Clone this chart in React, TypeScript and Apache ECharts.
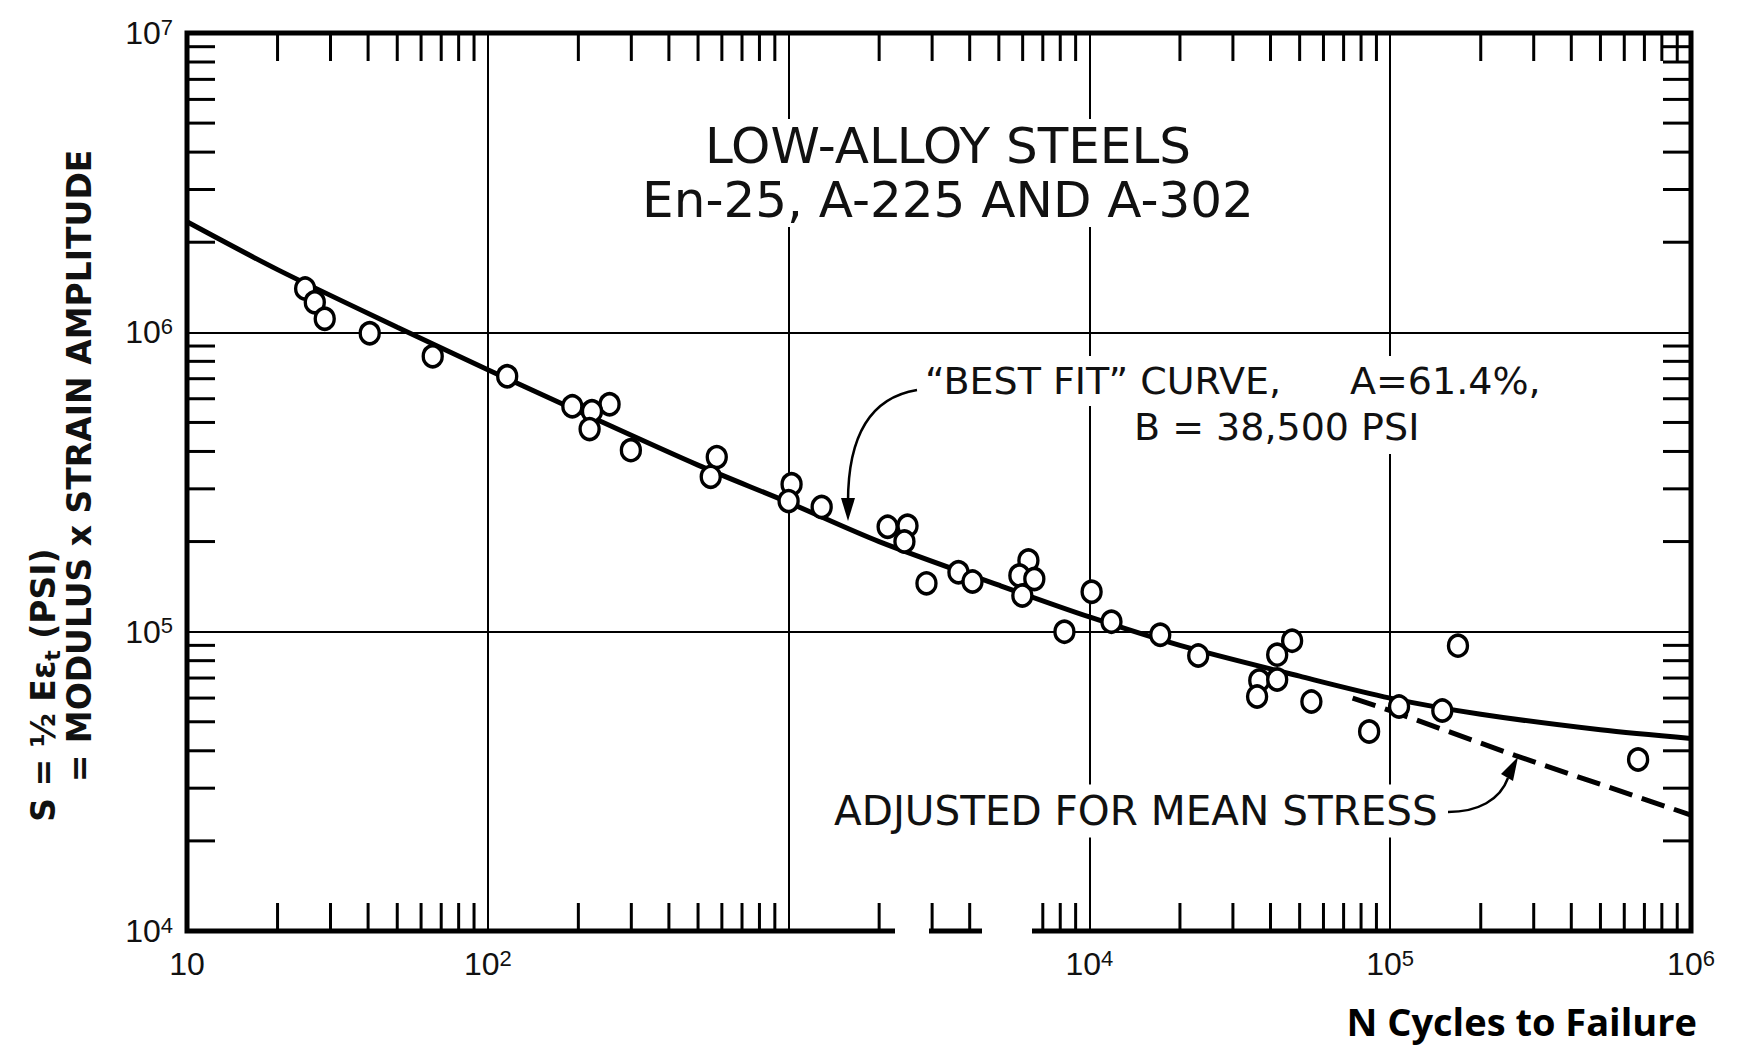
import React, { useEffect, useRef } from 'react';
import * as echarts from 'echarts';

// ---- data ----
const pointN = [24.7, 26.6, 28.7, 40.5, 65.6, 116, 191, 254, 222, 218, 299, 577, 551, 1023, 1000, 1288, 2134, 2485, 2427, 2873, 3670, 4087, 6270, 5850, 6560, 5985, 8260, 10170, 11840, 17200, 23000, 47200, 42100, 36700, 42100, 36100, 54700, 168000, 85100, 107000, 149000, 667000];
const pointS = [1.40e6, 1.26e6, 1.11e6, 9.93e5, 8.32e5, 7.13e5, 5.66e5, 5.75e5, 5.45e5, 4.75e5, 4.04e5, 3.83e5, 3.29e5, 3.11e5, 2.73e5, 2.61e5, 2.24e5, 2.26e5, 2.0e5, 1.45e5, 1.58e5, 1.47e5, 1.73e5, 1.54e5, 1.50e5, 1.32e5, 1.0e5, 1.36e5, 1.08e5, 9.77e4, 8.32e4, 9.33e4, 8.38e4, 6.87e4, 6.92e4, 6.07e4, 5.84e4, 8.98e4, 4.64e4, 5.62e4, 5.45e4, 3.74e4];

const fitN = [10, 20, 50, 100, 200, 500, 1000, 2000, 5000, 1e4, 2e4, 5e4, 1e5, 2e5, 5e5, 1e6];
const fitS = [2.34e6, 1.62e6, 1.04e6, 7.5e5, 5.45e5, 3.6e5, 2.7e5, 2.0e5, 1.43e5, 1.12e5, 9.0e4, 7.1e4, 6.0e4, 5.3e4, 4.7e4, 4.4e4];

const adjN = [7.5e4, 1e5, 2.6e5, 6.4e5, 1e6];
const adjS = [6.0e4, 5.45e4, 3.86e4, 2.84e4, 2.44e4];

const X_TICKS = [10, 100, 1000, 1e4, 1e5, 1e6];
const X_TICK_LABELS = ['10', '10^2', '', '10^4', '10^5', '10^6'];
const Y_TICKS = [1e4, 1e5, 1e6, 1e7];
const Y_TICK_LABELS = ['10^4', '10^5', '10^6', '10^7'];
const MINOR_STEPS = [2, 3, 4, 5, 6, 7, 8, 9];
const X_DECADES = [10, 100, 1000, 1e4, 1e5];
const Y_DECADES = [1e4, 1e5, 1e6];

const TITLE_LINES = ['LOW-ALLOY STEELS', 'En-25, A-225 AND A-302'];
const FIT_LABEL = '\u201CBEST FIT\u201D CURVE,';
const FIT_A = 'A=61.4%,';
const FIT_B = 'B = 38,500 PSI';
const ADJ_LABEL = 'ADJUSTED FOR MEAN STRESS';
const X_TITLE = 'N Cycles to Failure';
const Y_TITLE_1 = 'S = \u00BD E\u03B5{sub|t} (PSI)';
const Y_TITLE_2 = '= MODULUS x STRAIN AMPLITUDE';

const FONT = 'DejaVu Sans';
const TICK_FONT = 'Liberation Sans';

function toRich(label: string) {
  if (!label) return '';
  const [b, s] = label.split('^');
  return s ? `{b|${b}}{s|${s}}` : `{b|${b}}`;
}
function labelFor(v: number, ticks: number[], labels: string[]) {
  let best = 0;
  let d = Infinity;
  ticks.forEach((t, i) => {
    const dd = Math.abs(Math.log10(t) - Math.log10(v));
    if (dd < d) { d = dd; best = i; }
  });
  return d < 0.01 ? toRich(labels[best]) : '';
}

const minorX: number[][] = [];
X_DECADES.forEach((d) => MINOR_STEPS.forEach((m) => minorX.push([d * m, 1e4])));
const minorY: number[][] = [];
Y_DECADES.forEach((d) => MINOR_STEPS.forEach((m) => minorY.push([10, d * m])));

const TICK_LEN = 28;

const richLabel = {
  b: { fontSize: 32, fontFamily: TICK_FONT, color: '#111', lineHeight: 34 },
  s: { fontSize: 22, fontFamily: TICK_FONT, color: '#111', lineHeight: 22, verticalAlign: 'top' as const },
};

export default function App() {
  const ref = useRef<HTMLDivElement>(null);
  useEffect(() => {
    if (!ref.current) return;
    const chart = echarts.init(ref.current, undefined, { renderer: 'svg' });
    const option: any = {
      animation: false,
      backgroundColor: '#fff',
      textStyle: { fontFamily: FONT },
      grid: {
        left: 187, right: 48, top: 33, bottom: 120,
        show: true, borderColor: '#000', borderWidth: 5, backgroundColor: 'transparent',
      },
      xAxis: {
        type: 'log', logBase: 10, min: 10, max: 1e6, splitNumber: 5,
        axisLine: { show: false }, axisTick: { show: false },
        splitLine: { show: true, lineStyle: { color: '#000', width: 2 } },
        axisLabel: {
          margin: 16,
          formatter: (v: number) => labelFor(v, X_TICKS, X_TICK_LABELS),
          rich: richLabel,
        },
      },
      yAxis: {
        type: 'log', logBase: 10, min: 1e4, max: 1e7, splitNumber: 3,
        axisLine: { show: false }, axisTick: { show: false },
        splitLine: { show: true, lineStyle: { color: '#000', width: 2 } },
        axisLabel: {
          margin: 14,
          formatter: (v: number) => labelFor(v, Y_TICKS, Y_TICK_LABELS),
          rich: richLabel,
        },
      },
      series: [
        {
          type: 'custom', name: 'xMinor', silent: true, z: 1,
          data: minorX,
          renderItem: (params: any, api: any) => {
            const cs = params.coordSys;
            const x = api.coord([api.value(0), 1e4])[0];
            const top = cs.y;
            const bottom = cs.y + cs.height;
            return {
              type: 'group',
              children: [
                { type: 'line', shape: { x1: x, y1: bottom, x2: x, y2: bottom - TICK_LEN }, style: { stroke: '#000', lineWidth: 3 } },
                { type: 'line', shape: { x1: x, y1: top, x2: x, y2: top + TICK_LEN }, style: { stroke: '#000', lineWidth: 3 } },
              ],
            };
          },
        },
        {
          type: 'custom', name: 'yMinor', silent: true, z: 1,
          data: minorY,
          renderItem: (params: any, api: any) => {
            const cs = params.coordSys;
            const y = api.coord([10, api.value(1)])[1];
            const left = cs.x;
            const right = cs.x + cs.width;
            return {
              type: 'group',
              children: [
                { type: 'line', shape: { x1: left, y1: y, x2: left + TICK_LEN, y2: y }, style: { stroke: '#000', lineWidth: 3 } },
                { type: 'line', shape: { x1: right, y1: y, x2: right - TICK_LEN, y2: y }, style: { stroke: '#000', lineWidth: 3 } },
              ],
            };
          },
        },
        {
          type: 'line', name: 'Best fit', data: fitN.map((n, i) => [n, fitS[i]]),
          smooth: 0.3, symbol: 'none', z: 3,
          lineStyle: { color: '#000', width: 5 },
        },
        {
          type: 'line', name: 'Adjusted', data: adjN.map((n, i) => [n, adjS[i]]),
          symbol: 'none', z: 3,
          lineStyle: { color: '#000', width: 5, type: [24, 10] },
        },
        {
          type: 'scatter', name: 'Tests', data: pointN.map((n, i) => [n, pointS[i]]),
          symbol: 'circle', symbolSize: [19, 21], z: 5,
          itemStyle: { color: '#fff', borderColor: '#000', borderWidth: 3.5, opacity: 1 },
        },
      ],
      graphic: [
        {
          type: 'text', x: 948, y: 173, z: 100,
          style: {
            text: TITLE_LINES.join('\n'), fontSize: 50, lineHeight: 54, fontFamily: FONT,
            fill: '#111', align: 'center', verticalAlign: 'middle', backgroundColor: '#fff', padding: [0, 12],
          },
        },
        {
          type: 'text', x: 919, y: 381, z: 100,
          style: { text: FIT_LABEL, fontSize: 38, fontFamily: FONT, fill: '#111', align: 'left', verticalAlign: 'middle', backgroundColor: '#fff', padding: [6, 6] },
        },
        {
          type: 'text', x: 1344, y: 381, z: 100,
          style: { text: FIT_A, fontSize: 38, fontFamily: FONT, fill: '#111', align: 'left', verticalAlign: 'middle', backgroundColor: '#fff', padding: [6, 6] },
        },
        {
          type: 'text', x: 1128, y: 427, z: 100,
          style: { text: FIT_B, fontSize: 38, fontFamily: FONT, fill: '#111', align: 'left', verticalAlign: 'middle', backgroundColor: '#fff', padding: [8, 6] },
        },
        {
          type: 'text', x: 830, y: 811, z: 100,
          style: { text: ADJ_LABEL, fontSize: 40.5, fontFamily: FONT, fill: '#111', align: 'left', verticalAlign: 'middle', backgroundColor: '#fff', padding: [6, 4] },
        },
        {
          type: 'bezierCurve', z: 100,
          shape: { x1: 917, y1: 390, cpx1: 868, cpy1: 398, cpx2: 848, cpy2: 440, x2: 848, y2: 502 },
          style: { stroke: '#000', lineWidth: 2.5, fill: null },
        },
        {
          type: 'polygon', z: 100,
          shape: { points: [[841, 498], [855, 498], [848, 521]] },
          style: { fill: '#000' },
        },
        {
          type: 'bezierCurve', z: 100,
          shape: { x1: 1448, y1: 812, cpx1: 1478, cpy1: 812, cpx2: 1500, cpy2: 800, x2: 1508, y2: 778 },
          style: { stroke: '#000', lineWidth: 2.5, fill: null },
        },
        {
          type: 'polygon', z: 100,
          shape: { points: [[1518, 757], [1501, 774], [1513, 781]] },
          style: { fill: '#000' },
        },
        {
          type: 'rect', z: 100,
          shape: { x: 895, y: 897, width: 34, height: 47 },
          style: { fill: '#fff' },
        },
        {
          type: 'rect', z: 100,
          shape: { x: 982, y: 897, width: 50, height: 47 },
          style: { fill: '#fff' },
        },
        {
          type: 'text', x: 43, y: 685, rotation: Math.PI / 2, z: 100,
          style: {
            text: Y_TITLE_1, fontSize: 33, fontWeight: 'bold', fontFamily: FONT, fill: '#111',
            align: 'center', verticalAlign: 'middle', lineHeight: 40,
            rich: { sub: { fontSize: 22, fontWeight: 'bold', fontFamily: FONT, fill: '#111', verticalAlign: 'bottom', lineHeight: 40 } },
          },
        },
        {
          type: 'text', x: 79, y: 466, rotation: Math.PI / 2, z: 100,
          style: {
            text: Y_TITLE_2, fontSize: 33, fontWeight: 'bold', fontFamily: FONT, fill: '#111',
            align: 'center', verticalAlign: 'middle',
          },
        },
        {
          type: 'text', x: 1697, y: 1021, z: 100,
          style: {
            text: X_TITLE, fontSize: 38, fontWeight: 'bold', fontFamily: 'Open Sans', fill: '#000',
            align: 'right', verticalAlign: 'middle',
          },
        },
      ],
    };
    chart.setOption(option);
    return () => chart.dispose();
  }, []);
  return (
    <div
      ref={ref}
      style={{ position: 'fixed', left: 0, top: 0, width: 1739, height: 1051, background: '#fff' }}
    />
  );
}
